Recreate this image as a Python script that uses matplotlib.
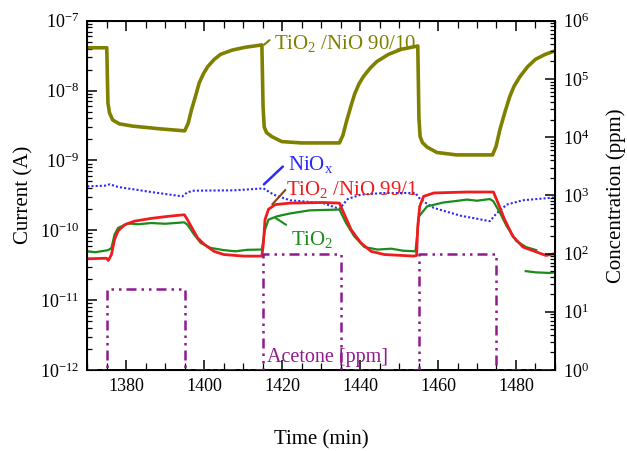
import numpy as np
import matplotlib.pyplot as plt
from matplotlib.ticker import MultipleLocator, LogLocator, LogFormatterMathtext, NullFormatter

plt.rcParams['font.family'] = 'Liberation Serif'
plt.rcParams['mathtext.fontset'] = 'custom'
plt.rcParams['mathtext.rm'] = 'Liberation Serif'
plt.rcParams['mathtext.it'] = 'Liberation Serif:italic'

# TiO2/NiO 90/10 (olive)
t_9010 = [1370, 1375, 1375.3, 1375.7, 1376.5, 1378.2, 1381.6, 1388.4, 1395,
          1395.9, 1396.7, 1398, 1398.7, 1399.8, 1400.9, 1402.6, 1404.2, 1407.2, 1410.6, 1414.8,
          1415.1, 1415.4, 1416.0, 1417.3, 1419.9, 1425, 1434.7,
          1435.6, 1436.5, 1437.8, 1438.6, 1439.7, 1440.9, 1442.6, 1444.3, 1447.3, 1450.6, 1454.8,
          1455.1, 1455.4, 1456.0, 1457.2, 1459.7, 1464.7, 1474.0,
          1474.9, 1475.9, 1477.2, 1478.4, 1479.5, 1481, 1483, 1485, 1487.5, 1490]
i_9010 = [4.1e-8, 4.1e-8, 6.6e-9, 4.8e-9, 3.8e-9, 3.34e-9, 3.1e-9, 2.84e-9, 2.65e-9,
          3.42e-9, 5.2e-9, 9.2e-9, 1.28e-8, 1.74e-8, 2.2e-8, 2.8e-8, 3.3e-8, 3.8e-8, 4.17e-8, 4.5e-8,
          6.0e-9, 3.0e-9, 2.5e-9, 2.2e-9, 1.86e-9, 1.78e-9, 1.78e-9,
          2.3e-9, 3.6e-9, 6.4e-9, 8.9e-9, 1.24e-8, 1.6e-8, 2.1e-8, 2.6e-8, 3.3e-8, 3.9e-8, 4.35e-8,
          4.0e-9, 2.2e-9, 1.8e-9, 1.55e-9, 1.3e-9, 1.2e-9, 1.2e-9,
          1.6e-9, 2.8e-9, 5.0e-9, 8.2e-9, 1.15e-8, 1.58e-8, 2.2e-8, 2.8e-8, 3.3e-8, 3.7e-8]

# NiOx (blue dotted)
t_niox = [1370, 1374.5, 1375.8, 1377.9, 1386.4, 1394.4, 1395.7, 1397.4, 1407.6, 1415.2, 1417.8,
          1422, 1430.5, 1434.7, 1436.8, 1440.2, 1446.2, 1454.2, 1455.5, 1458.9, 1465.7, 1473.3,
          1475, 1477.6, 1481.8, 1490]
i_niox = [4.26e-10, 4.35e-10, 4.55e-10, 4.17e-10, 3.53e-10, 3.06e-10, 3.5e-10, 3.69e-10, 3.73e-10,
          3.98e-10, 3.24e-10, 2.69e-10, 2.45e-10, 2.02e-10, 2.8e-10, 3.24e-10, 3.42e-10, 3.42e-10,
          2.75e-10, 2.09e-10, 1.62e-10, 1.35e-10, 1.74e-10, 2.33e-10, 2.69e-10, 2.95e-10]

# TiO2/NiO 99/1 (red)
t_991 = [1370, 1374.9, 1375.4, 1376.2, 1377.0, 1377.9, 1379.6, 1382.1, 1386.4, 1390.6, 1394.9,
         1395.7, 1396.6, 1398.3, 1400, 1402.5, 1405, 1410.1, 1414.8, 1415.2, 1415.6, 1416.5,
         1418.2, 1422, 1430.5, 1434.7, 1436, 1437.7, 1440.2, 1442.8, 1446.2, 1453.8, 1454.5,
         1454.8, 1455.3, 1456.3, 1458.9, 1467.4, 1474.2, 1475.4, 1477.1, 1479.2, 1481.8,
         1485.2, 1487.7, 1489.4, 1490]
i_991 = [3.9e-11, 3.98e-11, 3.7e-11, 4.5e-11, 7.4e-11, 9.8e-11, 1.2e-10, 1.35e-10, 1.48e-10, 1.58e-10,
         1.67e-10, 1.42e-10, 1.15e-10, 7.8e-11, 6.3e-11, 5.0e-11, 4.5e-11, 4.27e-11, 4.27e-11, 6.6e-11,
         1.42e-10, 2.0e-10, 2.33e-10, 2.45e-10, 2.5e-10, 2.45e-10, 1.67e-10, 1.02e-10, 6.6e-11,
         5.0e-11, 4.5e-11, 4.27e-11, 4.36e-11, 1.15e-10, 2.2e-10, 3.06e-10, 3.42e-10, 3.53e-10,
         3.53e-10, 2.45e-10, 1.42e-10, 8.2e-11, 5.75e-11, 4.9e-11, 4.36e-11, 4.57e-11, 4.5e-11]

# TiO2 (green); NaN splits off the last short piece
t_tio2 = [1370, 1372, 1374, 1375.4, 1376.2, 1377.0, 1377.9, 1380.4, 1383, 1386.4, 1390, 1394.9,
          1395.7, 1397.4, 1399.1, 1401.6, 1405, 1408, 1411, 1414.8, 1415.6, 1416.5, 1418.6, 1422,
          1427.1, 1434.7, 1436.4, 1438.5, 1441.1, 1444.5, 1448, 1451, 1454.2, 1454.7, 1455.1,
          1457.2, 1461.4, 1464, 1467.4, 1470, 1473.3, 1474.2, 1475.9, 1477.6, 1480.1, 1482.6,
          1485.2, np.nan, 1482.5, 1485, 1488.6, 1490]
i_tio2 = [5.0e-11, 4.85e-11, 5.05e-11, 5.2e-11, 5.6e-11, 8.7e-11, 1.08e-10, 1.25e-10, 1.22e-10,
          1.27e-10, 1.24e-10, 1.3e-10, 1.2e-10, 8.7e-11, 6.6e-11, 5.6e-11, 5.2e-11, 5.0e-11,
          5.25e-11, 5.3e-11, 1.02e-10, 1.42e-10, 1.58e-10, 1.74e-10, 1.93e-10, 1.98e-10,
          1.27e-10, 8.2e-11, 5.75e-11, 5.3e-11, 5.45e-11, 5.1e-11, 5.0e-11, 9.1e-11, 1.58e-10,
          2.2e-10, 2.5e-10, 2.6e-10, 2.75e-10, 2.65e-10, 2.8e-10, 2.6e-10, 1.77e-10, 1.15e-10,
          7.0e-11, 5.75e-11, 5.2e-11, np.nan, 2.6e-11, 2.5e-11, 2.45e-11, 2.5e-11]

# acetone steps (right axis)
t_acet = [1370, 1375, 1395, 1415, 1435, 1455, 1475, 1490]
ppm_acet = [1, 25, 1, 100, 1, 100, 1, 1]

olive = '#808000'
red = '#ee1c1c'
green = '#1a8c1a'
blue = '#2a2aff'
purple = '#8e1a8e'

fig = plt.figure(figsize=(6.27, 4.51), dpi=100)
ax = fig.add_axes([0.1392, 0.1796, 0.7459, 0.7745])
ax2 = ax.twinx()

ax2.plot(t_acet, ppm_acet, drawstyle='steps-post', color=purple, lw=1.8,
         dashes=(4, 2, 1, 2, 1, 2))
ax.plot(t_niox, i_niox, color=blue, lw=1.5, linestyle=(0, (1, 1)))
ax.plot(t_tio2, i_tio2, color=green, lw=1.6)
ax.plot(t_991, i_991, color=red, lw=2.0)
ax.plot(t_9010, i_9010, color=olive, lw=2.6)

ax.set_yscale('log')
ax.set_ylim(1e-12, 1e-7)
ax.set_xlim(1370, 1490)
ax2.set_yscale('log')
ax2.set_ylim(1e0, 1e6)

ax.xaxis.set_major_locator(MultipleLocator(20))
ax.xaxis.set_minor_locator(MultipleLocator(5))
for a in (ax, ax2):
    a.yaxis.set_major_locator(LogLocator(base=10, numticks=10))
    a.yaxis.set_minor_locator(LogLocator(base=10, subs=np.arange(2, 10), numticks=10))
    a.yaxis.set_major_formatter(LogFormatterMathtext())
    a.yaxis.set_minor_formatter(NullFormatter())
    a.tick_params(which='major', direction='in', length=7, width=1.1, labelsize=13, pad=6)
    a.tick_params(which='minor', direction='in', length=3.5, width=0.9)
ax.tick_params(axis='x', which='both', top=True)
ax.tick_params(axis='x', which='minor', length=5)
for s in ax.spines.values():
    s.set_linewidth(1.4)

ax.set_xlabel('Time (min)', fontsize=15, labelpad=25)
ax.set_ylabel('Current (A)', fontsize=15, labelpad=4)
ax2.set_ylabel('Concentration (ppm)', fontsize=15, labelpad=12)

# labels with leader lines
ax.annotate('', xy=(1414.8, 4.25e-8), xytext=(1417.3, 5.6e-8),
            arrowprops=dict(arrowstyle='-', color=olive, lw=1.5))
ax.text(1417.8, 3.95e-8, 'TiO$_2$ /NiO 90/10', color=olive, fontsize=15, va='baseline')

ax.annotate('', xy=(1414.8, 4.26e-10), xytext=(1420.7, 8.7e-10),
            arrowprops=dict(arrowstyle='-', color=blue, lw=1.8))
ax.text(1421.6, 7.36e-10, r'NiO$_\mathrm{x}$', color=blue, fontsize=15, va='baseline')

ax.annotate('', xy=(1417.0, 2.2e-10), xytext=(1421.3, 4.04e-10),
            arrowprops=dict(arrowstyle='-', color='#8b4513', lw=1.5))
ax.text(1421.1, 3.24e-10, 'TiO$_2$ /NiO 99/1', color=red, fontsize=15, va='baseline')

ax.annotate('', xy=(1417.7, 1.58e-10), xytext=(1421.6, 1.14e-10),
            arrowprops=dict(arrowstyle='-', color=green, lw=1.5))
ax.text(1422.3, 6.25e-11, 'TiO$_2$', color=green, fontsize=15, va='baseline')

ax2.text(1416.1, 1.39, 'Acetone [ppm]', color=purple, fontsize=14.5, va='baseline')

fig.savefig('out.png', dpi=100)
